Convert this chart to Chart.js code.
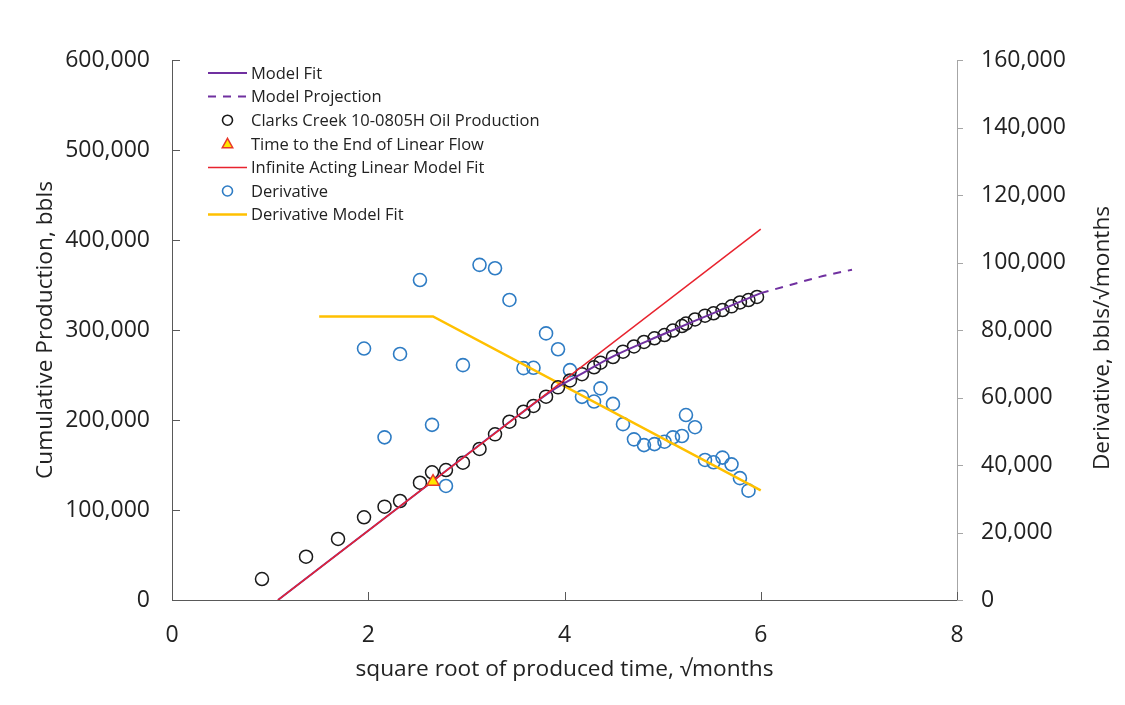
<!DOCTYPE html>
<html>
<head>
<meta charset="utf-8">
<script src="https://cdn.jsdelivr.net/npm/chart.js@4/dist/chart.umd.min.js"></script>
<style>
  html, body { margin: 0; padding: 0; background: #ffffff; }
  #wrap { width: 1125px; height: 705px; position: relative; }
</style>
</head>
<body>
<div id="wrap"><canvas id="c" width="1125" height="705"></canvas></div>
<script>
// Square root of produced time (√months) for each monthly production record
const sqrtTime = [0.917, 1.366, 1.692, 1.957, 2.166, 2.324, 2.527, 2.650, 2.792, 2.965,
                  3.134, 3.292, 3.439, 3.582, 3.684, 3.812, 3.934, 4.056, 4.178, 4.301,
                  4.367, 4.494, 4.596, 4.708, 4.810, 4.917, 5.019, 5.105, 5.197, 5.238,
                  5.330, 5.432, 5.519, 5.610, 5.702, 5.788, 5.875, 5.962];
// Cumulative oil production, bbls
const cumulativeOil = [23300, 48100, 67800, 91900, 103700, 110000, 130300, 141900, 144400, 152600,
                       167800, 184100, 198100, 209200, 215600, 225900, 236300, 243900, 250900, 258600,
                       263700, 270000, 275900, 281700, 286700, 290800, 294400, 299400, 304400, 307200,
                       311700, 315900, 318600, 322200, 326300, 330600, 333300, 336700];

// Derivative of cumulative production, bbls/√months
const derivTime = [1.957, 2.166, 2.324, 2.527, 2.650, 2.792, 2.965, 3.134, 3.292, 3.439,
                   3.582, 3.684, 3.812, 3.934, 4.056, 4.178, 4.301, 4.367, 4.494, 4.596,
                   4.708, 4.810, 4.917, 5.019, 5.105, 5.197, 5.238, 5.330, 5.432, 5.519,
                   5.610, 5.702, 5.788, 5.875];
const derivative = [74500, 48200, 72900, 94800, 51900, 33800, 69600, 99300, 98300, 88900,
                    68700, 68800, 79000, 74300, 68100, 60200, 58800, 62700, 58100, 52100,
                    47600, 45900, 46200, 46900, 48200, 48600, 54800, 51200, 41500, 40800,
                    42200, 40200, 36100, 32400];

// Model fit (follows the linear trend early, then bends) and its projection
const modelFitTime = [1.08, 2.66, 3.5, 3.9, 4.2, 4.5, 5.0, 5.5, 6.0];
const modelFitCum  = [0, 132300, 202700, 234500, 253000, 271000, 295000, 318000, 341000];
const projectionTime = [6.0, 6.3, 6.6, 6.93];
const projectionCum  = [341000, 350000, 359000, 367000];

// Infinite acting linear flow fit
const linearFitTime = [1.08, 6.0];
const linearFitCum  = [0, 412000];

// End of linear flow
const endLinearTime = [2.66];
const endLinearCum  = [131500];

// Derivative model fit
const derivFitTime = [1.5, 2.66, 6.0];
const derivFitValue = [84000, 84000, 32500];

// Axis tick settings
const xTicks = { min: 0, max: 8, step: 2 };
const yLeftTicks = { min: 0, max: 600000, step: 100000 };
const yRightTicks = { min: 0, max: 160000, step: 20000 };

const pts = (xs, ys) => xs.map((x, i) => ({ x: x, y: ys[i] }));
const fmt = v => Number(v).toLocaleString('en-US');

const FONT = "'Open Sans', 'Noto Sans', sans-serif";
const TEXT = '#222222';
Chart.defaults.font.family = FONT;
Chart.defaults.color = TEXT;

// Tick marks drawn inward on left and bottom axes, outward on the right axis
const tickMarks = {
  id: 'tickMarks',
  afterDraw(chart) {
    const { ctx, chartArea: a, scales } = chart;
    ctx.save();
    ctx.lineWidth = 1;
    ctx.strokeStyle = '#595959';
    scales.y.ticks.forEach(t => {
      const py = Math.round(scales.y.getPixelForValue(t.value)) + 0.5;
      ctx.beginPath(); ctx.moveTo(a.left, py); ctx.lineTo(a.left + 8, py); ctx.stroke();
    });
    scales.x.ticks.forEach(t => {
      const px = Math.round(scales.x.getPixelForValue(t.value)) + 0.5;
      ctx.beginPath(); ctx.moveTo(px, a.bottom); ctx.lineTo(px, a.bottom - 8); ctx.stroke();
    });
    ctx.strokeStyle = '#a6a6a6';
    scales.y1.ticks.forEach(t => {
      const py = Math.round(scales.y1.getPixelForValue(t.value)) + 0.5;
      ctx.beginPath(); ctx.moveTo(a.right, py); ctx.lineTo(a.right + 6, py); ctx.stroke();
    });
    ctx.restore();
  }
};

// Secondary axis title, reading bottom to top
const rightTitle = {
  id: 'rightTitle',
  afterDraw(chart) {
    const { ctx, chartArea: a } = chart;
    ctx.save();
    ctx.translate(a.right + 146, (a.top + a.bottom) / 2 + 8);
    ctx.rotate(-Math.PI / 2);
    ctx.font = '22.7px ' + FONT;
    ctx.fillStyle = TEXT;
    ctx.textAlign = 'center';
    ctx.textBaseline = 'middle';
    ctx.fillText('Derivative, bbls/√months', 0, 0);
    ctx.restore();
  }
};

// Legend placed inside the plot area, top left
const insideLegend = {
  id: 'insideLegend',
  afterDraw(chart) {
    const { ctx, chartArea: a } = chart;
    const x0 = a.left + 36, len = 39, textX = a.left + 79;
    const y0 = a.top + 13, dy = 23.6;
    ctx.save();
    ctx.font = '16.5px ' + FONT;
    ctx.textBaseline = 'middle';
    chart.data.datasets.forEach((ds, i) => {
      const y = y0 + i * dy;
      const cx = x0 + len / 2;
      ctx.save();
      if (ds.showLine) {
        ctx.strokeStyle = ds.borderColor;
        ctx.lineWidth = ds.borderWidth;
        ctx.setLineDash(ds.borderDash || []);
        ctx.beginPath(); ctx.moveTo(x0, y); ctx.lineTo(x0 + len, y); ctx.stroke();
      } else if (ds.pointStyle === 'triangle') {
        const r = 5.5;
        ctx.fillStyle = ds.pointBackgroundColor;
        ctx.strokeStyle = ds.pointBorderColor;
        ctx.lineWidth = 1.5;
        ctx.beginPath();
        ctx.moveTo(cx, y - r);
        ctx.lineTo(cx + r * 0.95, y + r * 0.7);
        ctx.lineTo(cx - r * 0.95, y + r * 0.7);
        ctx.closePath(); ctx.fill(); ctx.stroke();
      } else {
        ctx.strokeStyle = ds.pointBorderColor;
        ctx.lineWidth = 1.6;
        ctx.beginPath(); ctx.arc(cx, y, 5, 0, Math.PI * 2); ctx.stroke();
      }
      ctx.restore();
      ctx.fillStyle = TEXT;
      ctx.fillText(ds.label, textX, y + 1);
    });
    ctx.restore();
  }
};

const lineDefaults = { showLine: true, pointRadius: 0, pointHoverRadius: 0, fill: false, tension: 0 };

new Chart(document.getElementById('c'), {
  type: 'scatter',
  data: {
    datasets: [
      Object.assign({}, lineDefaults, {
        label: 'Model Fit', data: pts(modelFitTime, modelFitCum), yAxisID: 'y',
        borderColor: '#7030a0', borderWidth: 2, cubicInterpolationMode: 'monotone', order: 2
      }),
      Object.assign({}, lineDefaults, {
        label: 'Model Projection', data: pts(projectionTime, projectionCum), yAxisID: 'y',
        borderColor: '#7030a0', borderWidth: 2, borderDash: [8, 7], cubicInterpolationMode: 'monotone', order: 2
      }),
      {
        label: 'Clarks Creek 10-0805H Oil Production', data: pts(sqrtTime, cumulativeOil), yAxisID: 'y',
        showLine: false, pointStyle: 'circle', pointRadius: 6.5, pointBorderWidth: 1.5,
        pointBackgroundColor: 'rgba(0,0,0,0)', pointBorderColor: '#1a1a1a', order: 3
      },
      {
        label: 'Time to the End of Linear Flow', data: pts(endLinearTime, endLinearCum), yAxisID: 'y',
        showLine: false, pointStyle: 'triangle', pointRadius: 7, pointBorderWidth: 1.5,
        pointBackgroundColor: '#ffe600', pointBorderColor: '#e8382a', order: 0
      },
      Object.assign({}, lineDefaults, {
        label: 'Infinite Acting Linear Model Fit', data: pts(linearFitTime, linearFitCum), yAxisID: 'y',
        borderColor: '#e8232e', borderWidth: 1.5, order: 1
      }),
      {
        label: 'Derivative', data: pts(derivTime, derivative), yAxisID: 'y1',
        showLine: false, pointStyle: 'circle', pointRadius: 6.5, pointBorderWidth: 1.6,
        pointBackgroundColor: 'rgba(0,0,0,0)', pointBorderColor: '#2e7cc4', order: 5
      },
      Object.assign({}, lineDefaults, {
        label: 'Derivative Model Fit', data: pts(derivFitTime, derivFitValue), yAxisID: 'y1',
        borderColor: '#ffc000', borderWidth: 2.5, order: 4
      })
    ]
  },
  options: {
    responsive: false,
    animation: false,
    devicePixelRatio: 1,
    layout: { padding: { top: 60, right: 0, bottom: 0, left: 0 } },
    plugins: { legend: { display: false }, tooltip: { enabled: false } },
    scales: {
      x: {
        type: 'linear', position: 'bottom',
        min: xTicks.min, max: xTicks.max,
        ticks: { stepSize: xTicks.step, font: { size: 23 }, padding: 22, color: TEXT },
        grid: { display: false, drawTicks: false },
        border: { display: true, color: '#595959', width: 1 },
        title: { display: true, text: 'square root of produced time, √months', font: { size: 22.7 }, color: TEXT,
                 padding: { top: 0, bottom: 22 } },
        afterFit(s) { s.height = 105; }
      },
      y: {
        type: 'linear', position: 'left',
        min: yLeftTicks.min, max: yLeftTicks.max,
        ticks: { stepSize: yLeftTicks.step, font: { size: 23 }, padding: 22, color: TEXT, callback: v => fmt(v) },
        grid: { display: false, drawTicks: false },
        border: { display: true, color: '#595959', width: 1 },
        title: { display: true, text: 'Cumulative Production, bbls', font: { size: 22.7 }, color: TEXT,
                 padding: { top: 32, bottom: 0 } },
        afterFit(s) { s.width = 172; }
      },
      y1: {
        type: 'linear', position: 'right',
        min: yRightTicks.min, max: yRightTicks.max,
        ticks: { stepSize: yRightTicks.step, font: { size: 23 }, padding: 24, color: TEXT, callback: v => fmt(v) },
        grid: { display: false, drawTicks: false },
        border: { display: true, color: '#a6a6a6', width: 1 },
        title: { display: false },
        afterFit(s) { s.width = 168; }
      }
    }
  },
  plugins: [tickMarks, rightTitle, insideLegend]
});
</script>
</body>
</html>
